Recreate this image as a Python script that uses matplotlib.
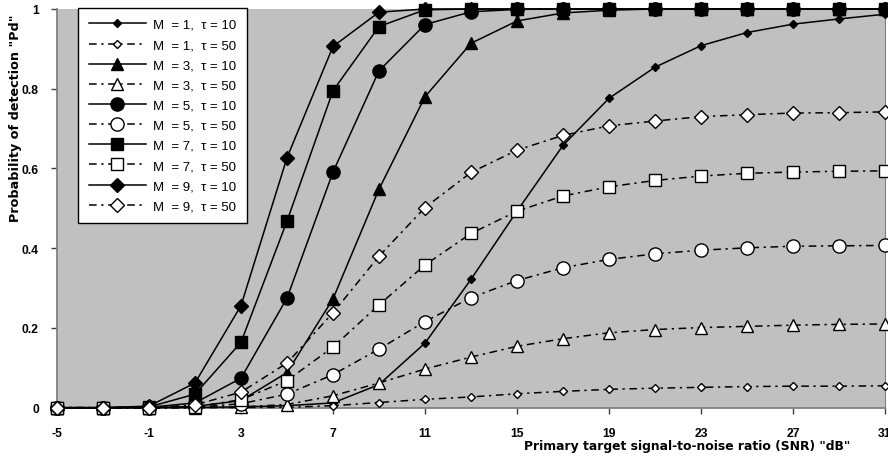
import matplotlib.pyplot as plt

plt.rcParams['font.family'] = ['Liberation Sans', 'DejaVu Sans']
plt.rcParams['axes.unicode_minus'] = False

# SNR values (dB) on the x axis
snr = [-5, -3, -1, 1, 3, 5, 7, 9, 11, 13, 15, 17, 19, 21, 23, 25, 27, 29, 31]

# Probability of detection
pd_m1_t10 = [0, 0, 0, 0.0005, 0.002, 0.005, 0.012, 0.058, 0.162, 0.322, 0.493,
             0.658, 0.776, 0.854, 0.908, 0.941, 0.962, 0.975, 0.987]
pd_m1_t50 = [0, 0, 0, 0, 0.0005, 0.001, 0.005, 0.013, 0.021, 0.027, 0.035,
             0.041, 0.046, 0.049, 0.051, 0.053, 0.054, 0.054, 0.055]
pd_m3_t10 = [0, 0, 0.0005, 0.003, 0.018, 0.088, 0.273, 0.548, 0.780, 0.914, 0.970,
             0.990, 0.997, 1, 1, 1, 1, 1, 1]
pd_m3_t50 = [0, 0, 0, 0.0005, 0.002, 0.008, 0.030, 0.062, 0.097, 0.127, 0.154,
             0.173, 0.188, 0.196, 0.201, 0.204, 0.207, 0.209, 0.210]
pd_m5_t10 = [0, 0, 0.001, 0.012, 0.074, 0.275, 0.591, 0.845, 0.961, 0.993, 0.999,
             1, 1, 1, 1, 1, 1, 1, 1]
pd_m5_t50 = [0, 0, 0, 0.001, 0.010, 0.034, 0.083, 0.147, 0.216, 0.276, 0.319,
             0.351, 0.372, 0.386, 0.395, 0.401, 0.405, 0.406, 0.407]
pd_m7_t10 = [0, 0, 0.002, 0.034, 0.164, 0.468, 0.795, 0.956, 0.998, 1, 1,
             1, 1, 1, 1, 1, 1, 1, 1]
pd_m7_t50 = [0, 0, 0, 0.002, 0.020, 0.068, 0.152, 0.258, 0.358, 0.437, 0.493,
             0.531, 0.554, 0.570, 0.581, 0.588, 0.591, 0.593, 0.594]
pd_m9_t10 = [0, 0, 0.004, 0.062, 0.256, 0.627, 0.906, 0.992, 1, 1, 1,
             1, 1, 1, 1, 1, 1, 1, 1]
pd_m9_t50 = [0, 0, 0, 0.007, 0.039, 0.112, 0.238, 0.380, 0.502, 0.590, 0.646,
             0.683, 0.707, 0.719, 0.730, 0.735, 0.739, 0.740, 0.742]

labels = ["M  = 1,  \u03c4 = 10", "M  = 1,  \u03c4 = 50",
          "M  = 3,  \u03c4 = 10", "M  = 3,  \u03c4 = 50",
          "M  = 5,  \u03c4 = 10", "M  = 5,  \u03c4 = 50",
          "M  = 7,  \u03c4 = 10", "M  = 7,  \u03c4 = 50",
          "M  = 9,  \u03c4 = 10", "M  = 9,  \u03c4 = 50"]
values = [pd_m1_t10, pd_m1_t50, pd_m3_t10, pd_m3_t50, pd_m5_t10,
          pd_m5_t50, pd_m7_t10, pd_m7_t50, pd_m9_t10, pd_m9_t50]

# marker style per M value
markers = {1: ("D", 4.5), 3: ("^", 9), 5: ("o", 9.5), 7: ("s", 8.5), 9: ("D", 7)}
m_values = [1, 1, 3, 3, 5, 5, 7, 7, 9, 9]

fig = plt.figure(figsize=(8.88, 4.64), dpi=100)
ax = fig.add_axes([57 / 888, 1 - 408.7 / 464, 828 / 888, 398.7 / 464])
ax.set_facecolor("#c0c0c0")

for i, (lab, vals, m) in enumerate(zip(labels, values, m_values)):
    mk, ms = markers[m]
    solid = (i % 2 == 0)
    ax.plot(snr, vals, color="black", lw=1.1,
            linestyle="-" if solid else (0, (5, 3, 1.5, 3)),
            marker=mk, markersize=ms, markeredgewidth=1,
            markeredgecolor="black",
            markerfacecolor="black" if solid else "white",
            clip_on=False, label=lab, zorder=3 + i)

ax.set_xlim(-5, 31)
ax.set_ylim(0, 1)
ax.set_xticks(range(-5, 32, 4))
ax.set_yticks([0, 0.2, 0.4, 0.6, 0.8, 1])
ax.set_yticklabels(["0", "0.2", "0.4", "0.6", "0.8", "1"])

ax.tick_params(axis="both", direction="out", length=4, width=1,
               color="#404040", labelsize=8.7)
ax.tick_params(axis="x", pad=10)
ax.tick_params(axis="y", pad=9)
for t in ax.get_xticklabels() + ax.get_yticklabels():
    t.set_fontweight("bold")

ax.spines["top"].set_visible(False)
for s in ("left", "bottom"):
    ax.spines[s].set_color("#808080")
    ax.spines[s].set_linewidth(1.3)
ax.spines["right"].set_color("#808080")
ax.spines["right"].set_linewidth(0.8)

fig.text(16 / 888, 1 - 118 / 464, 'Probability of detection "Pd"',
         rotation=90, ha="center", va="center", fontsize=9.2,
         fontweight="bold", family="DejaVu Sans")
fig.text(687 / 888, 1 - 446.7 / 464,
         'Primary target signal-to-noise ratio (SNR) "dB"',
         ha="center", va="center", fontsize=8.9, fontweight="bold",
         family="DejaVu Sans")

leg = ax.legend(loc="upper left", bbox_to_anchor=(21.3 / 828, 1.002),
                borderaxespad=0, fontsize=9.5, handlelength=4.3,
                handletextpad=0.55, labelspacing=0.6, borderpad=0.8,
                fancybox=False, framealpha=1, facecolor="white",
                edgecolor="black")
leg.get_frame().set_linewidth(1)
leg.set_zorder(20)

plt.savefig("out.png", dpi=100)
